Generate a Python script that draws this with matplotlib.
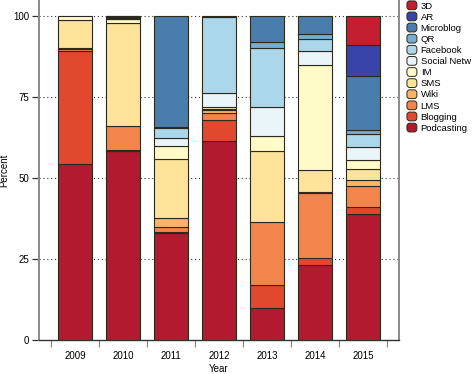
import matplotlib
matplotlib.use("Agg")
import matplotlib.pyplot as plt
import numpy as np
from matplotlib.patches import Patch, FancyBboxPatch
from matplotlib.legend_handler import HandlerPatch

years = ['2009', '2010', '2011', '2012', '2013', '2014', '2015']
categories = ['Podcasting', 'Blogging', 'LMS', 'Wiki', 'SMS', 'IM',
              'Social Netw', 'Facebook', 'QR', 'Microblog', 'AR', '3D']

podcasting = [54.3, 58.3, 32.9, 61.4, 10.0, 23.1, 38.8]
blogging   = [35.0, 0.4, 0.4, 6.5, 7.0, 2.1, 2.3]
lms        = [0.4, 7.4, 1.5, 2.1, 19.3, 20.1, 6.5]
wiki       = [0.3, 0.0, 2.7, 0.9, 0.0, 0.3, 1.8]
sms        = [8.6, 31.8, 18.2, 0.4, 22.0, 6.9, 3.4]
im         = [1.4, 1.0, 4.3, 0.5, 4.5, 32.2, 2.8]
social     = [0.0, 0.2, 2.2, 4.3, 9.2, 4.5, 4.1]
facebook   = [0.0, 0.2, 3.3, 23.6, 18.0, 3.6, 3.8]
qr         = [0.0, 0.2, 0.1, 0.0, 1.8, 1.5, 1.3]
microblog  = [0.0, 0.3, 34.4, 0.3, 8.2, 5.7, 16.5]
ar         = [0.0, 0.1, 0.0, 0.0, 0.0, 0.0, 9.7]
three_d    = [0.0, 0.1, 0.0, 0.0, 0.0, 0.0, 9.0]

series = [podcasting, blogging, lms, wiki, sms, im, social, facebook, qr,
          microblog, ar, three_d]
colors = ['#b21a2f', '#e0492f', '#f3854c', '#fdb468', '#fee39a', '#fffbc8',
          '#e9f5f9', '#acd7eb', '#79acd1', '#4a7dab', '#3a43a8', '#c41f31']

plt.rcParams['font.family'] = ['Liberation Sans', 'DejaVu Sans']

fig = plt.figure(figsize=(4.73, 3.74), dpi=100)
ax = fig.add_axes([39/473, 34/374, 360/473, 340/374])

x = np.arange(len(years))
edge = '#2b2a1c'
bottom = np.zeros(len(years))
for vals, col in zip(series, colors):
    v = np.array(vals)
    mask = v > 0
    ax.bar(x[mask], v[mask], bottom=bottom[mask], width=0.71, color=col,
           edgecolor=edge, linewidth=0.8, zorder=3)
    bottom += v

ax.set_xlim(-0.75, 6.75)
ax.set_ylim(0, 104.9)
ax.set_yticks([0, 25, 50, 75, 100])
ax.set_xticks(x)
ax.set_xticklabels(years)
ax.set_xticks(np.arange(-0.5, 7.0, 1.0), minor=True)
ax.tick_params(axis='x', which='major', length=0, pad=8, labelsize=7)
ax.tick_params(axis='x', which='minor', length=5, width=0.9, color='#888888',
               direction='out')
ax.tick_params(axis='y', length=5, width=0.9, color='#333333', labelsize=7, pad=2)

for yv in [25, 50, 75, 100]:
    ax.axhline(yv, color='#333333', linestyle=(0, (1, 2.5)), linewidth=0.8,
               zorder=1)

for side in ['left', 'right']:
    ax.spines[side].set_color('#8a8a8a')
    ax.spines[side].set_linewidth(1.4)
ax.spines['bottom'].set_color('#333333')
ax.spines['bottom'].set_linewidth(1.0)
ax.spines['top'].set_visible(False)

ax.set_xlabel('Year', fontsize=7, labelpad=2)
ax.set_ylabel('Percent', fontsize=7, labelpad=3)


class RoundHandler(HandlerPatch):
    def create_artists(self, legend, orig_handle, xdescent, ydescent, width,
                       height, fontsize, trans):
        p = FancyBboxPatch((-xdescent, -ydescent), width, height,
                           boxstyle='round,pad=0,rounding_size=2',
                           facecolor=orig_handle.get_facecolor(),
                           edgecolor=edge, linewidth=0.7)
        p.set_transform(trans)
        return [p]


handles = [Patch(facecolor=c, label=l) for c, l in zip(colors, categories)]
handles = handles[::-1]
fig.legend(handles=handles, loc='upper left', bbox_to_anchor=(406/473, 1.0),
           frameon=False, fontsize=6.8, handlelength=1.05, handleheight=1.05,
           labelspacing=0.16, handletextpad=0.4, borderpad=0.1,
           borderaxespad=0,
           handler_map={Patch: RoundHandler()})

fig.savefig('out.png', dpi=100)
